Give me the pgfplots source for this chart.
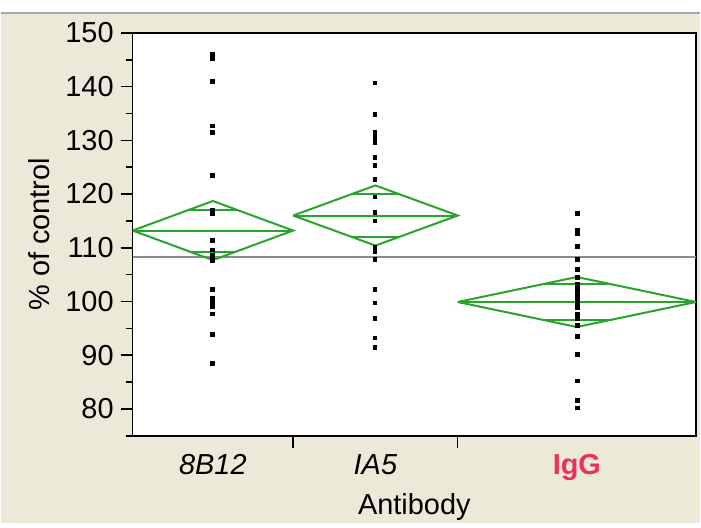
\documentclass[border=0pt]{standalone}
\usepackage{fontspec}
\setmainfont{Liberation Sans}
\usepackage{pgfplots}
\pgfplotsset{compat=1.18}
\definecolor{bg}{RGB}{236,233,216}
\definecolor{dgreen}{RGB}{40,165,40}
\definecolor{igg}{RGB}{236,48,88}
\definecolor{gline}{RGB}{140,140,140}
\begin{document}
\begin{tikzpicture}
\fill[bg] (-66pt,-44pt) rectangle (284.5pt,218.5pt);
\fill[white] (-66pt,212.5pt) rectangle (284.5pt,218.5pt);
\draw[gray!70, line width=1pt] (-66pt,212pt) -- (284.5pt,212pt);
\begin{axis}[
  scale only axis, width=282.5pt, height=202pt,
  xmin=0, xmax=565, ymin=75, ymax=150,
  axis background/.style={fill=white},
  axis line style={line width=0.8pt},
  ytick={80,90,...,150}, minor ytick={75,85,...,145},
  tick align=outside, tick pos=left,
  major tick length=6pt, minor tick length=3.5pt,
  tick style={line width=0.8pt, black},
  xtick={161,326}, xticklabels={},
  extra x ticks={80.5,243.5,445.5},
  extra x tick labels={{\textit{8B12}},{\textit{IA5}},{\textbf{\textcolor{igg}{IgG}}}},
  extra x tick style={major tick length=0pt, tick label style={anchor=base, yshift=-19.5pt}},
  /pgf/number format/assume math mode=true,
  tick label style={font=\fontsize{14.5}{17}\selectfont},
  ylabel={\% of control},
  every axis y label/.style={at={(axis description cs:0,0.5)}, xshift=-47pt, rotate=90, anchor=center, font=\fontsize{14.5}{17}\selectfont},
  xlabel={Antibody},
  every axis x label/.style={at={(axis description cs:0.5,0)}, yshift=-39.5pt, anchor=base, font=\fontsize{14.5}{17}\selectfont},
]
% grand mean
\addplot[gline, line width=1pt] coordinates {(0,108.2) (565,108.2)};
% 8B12 diamond
\addplot[dgreen, line width=1pt] coordinates {(0,113.2) (80.5,118.7) (161,113.2) (80.5,107.7) (0,113.2)};
\addplot[dgreen, line width=1pt] coordinates {(0,113.2) (161,113.2)};
\addplot[dgreen, line width=1pt] coordinates {(56.9,117.1) (104.1,117.1)};
\addplot[dgreen, line width=1pt] coordinates {(56.9,109.3) (104.1,109.3)};
% IA5 diamond
\addplot[dgreen, line width=1pt] coordinates {(161,116.0) (243.5,121.6) (326,116.0) (243.5,110.4) (161,116.0)};
\addplot[dgreen, line width=1pt] coordinates {(161,116.0) (326,116.0)};
\addplot[dgreen, line width=1pt] coordinates {(219.3,119.96) (267.7,119.96)};
\addplot[dgreen, line width=1pt] coordinates {(219.3,112.04) (267.7,112.04)};
% IgG diamond
\addplot[dgreen, line width=1pt] coordinates {(326,99.9) (445.5,104.55) (565,99.9) (445.5,95.25) (326,99.9)};
\addplot[dgreen, line width=1pt] coordinates {(326,99.9) (565,99.9)};
\addplot[dgreen, line width=1pt] coordinates {(410.5,103.19) (480.5,103.19)};
\addplot[dgreen, line width=1pt] coordinates {(410.5,96.61) (480.5,96.61)};
% points
\addplot[only marks, mark=square*, mark size=0.9pt, black] coordinates {
(80,146.0) (80,145.3) (80,141.0) (80,132.7) (80,131.5) (80,123.5) (80,117.0) (80,116.3)
(80,111.4) (80,109.6) (80,108.6) (80,107.6) (80,102.3) (80,100.6) (80,99.8) (80,99.0)
(80,97.7) (80,93.9) (80,88.5)};
\addplot[only marks, mark=square*, mark size=0.9pt, black] coordinates {
(243,140.7) (243,134.8) (243,131.5) (243,130.5) (243,129.6) (243,126.8) (243,125.3)
(243,122.7) (243,119.5) (243,116.6) (243,115.0) (243,110.1) (243,109.2) (243,107.8)
(243,102.3) (243,99.7) (243,96.9) (243,93.2) (243,91.4)};
\addplot[only marks, mark=square*, mark size=0.9pt, black] coordinates {
(446,116.4) (446,113.3) (446,112.6) (446,110.2) (446,107.8) (446,106.0) (446,104.5)
(446,103.3) (446,102.8) (446,102.3) (446,101.8) (446,101.4) (446,101.0) (446,100.6)
(446,100.2) (446,99.8) (446,99.4) (446,98.8) (446,97.7) (446,96.8) (446,95.5)
(446,93.5) (446,90.1) (446,85.2) (446,81.6) (446,80.2)};
\end{axis}
\end{tikzpicture}
\end{document}
